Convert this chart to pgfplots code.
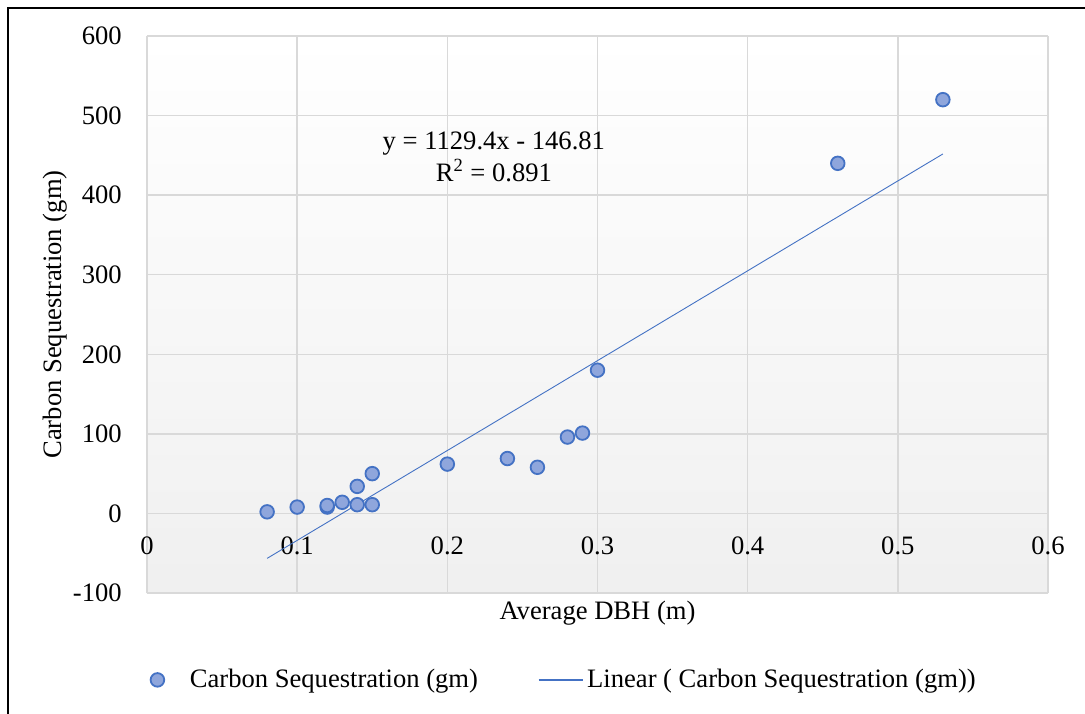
\documentclass[border=0pt]{standalone}
\usepackage{pgfplots}
\pgfplotsset{compat=1.18}
\usepackage{fontspec}
\setmainfont{Liberation Serif}
\definecolor{mblue}{HTML}{4472C4}
\definecolor{mfill}{HTML}{8FA6DC}
\definecolor{gridc}{HTML}{D9D9D9}
\begin{document}
\fontsize{13.3}{16}\selectfont
\begin{tikzpicture}
\begin{axis}[
  scale only axis, width=450.5pt, height=278.5pt,
  xmin=0, xmax=0.6, ymin=-100, ymax=600,
  xtick={0,0.1,0.2,0.3,0.4,0.5,0.6},
  ytick={-100,0,100,200,300,400,500,600},
  xticklabels={0,0.1,0.2,0.3,0.4,0.5,0.6},
  /pgf/number format/assume math mode=true,
  axis x line=middle, axis y line=left,
  axis line style={-, draw=gridc, line width=0.75pt},
  hide obscured x ticks=false, hide obscured y ticks=false,
  major tick length=0pt,
  grid=major, grid style={draw=gridc, line width=0.75pt},
  axis background/.style={shade, top color=white, bottom color=black!6},
  xticklabel style={yshift=-7pt, font=\fontsize{13.3}{16}\selectfont},
  yticklabel style={xshift=-8pt, font=\fontsize{13.3}{16}\selectfont},
  xlabel={Average DBH (m)},
  ylabel={Carbon Sequestration (gm)},
  xlabel style={at={(axis description cs:0.5,-0.036)}, anchor=center},
  ylabel style={at={(axis description cs:-0.102,0.5)}, anchor=center},
  legend columns=2,
  legend style={draw=none, fill=none, inner sep=0pt, outer sep=0pt,
    at={(axis description cs:-0.020,-0.156)}, anchor=west,
    /tikz/every even column/.append style={column sep=28pt},
    font=\fontsize{13.3}{16}\selectfont},
]
\addplot[only marks, mark=*, mark size=3.4pt,
  mark options={draw=mblue, fill=mfill, line width=0.9pt},
  legend image code/.code={\path[draw=none, fill=none] (0cm,-0.1cm) rectangle (1cm,0.1cm);\draw plot coordinates {(0.5cm,0cm)};}]
coordinates {
(0.08,2) (0.10,8) (0.12,8) (0.12,10) (0.13,14) (0.14,11) (0.14,34)
(0.15,11) (0.15,50) (0.20,62) (0.24,69) (0.26,58) (0.28,96) (0.29,101)
(0.30,180) (0.46,440) (0.53,520)
};
\addlegendentry{Carbon Sequestration (gm)}
\addplot[no marks, draw=mblue, line width=0.45pt,
  legend image code/.code={\draw[mblue, line width=0.6pt] (0pt,0pt) -- (22pt,0pt);}]
coordinates {(0.08,-56.46) (0.53,451.77)};
\addlegendentry[xshift=-2pt]{Linear ( Carbon Sequestration (gm))}
\node[align=center, inner sep=0pt] at (axis cs:0.231,448) {y = 1129.4x - 146.81\\R\textsuperscript{2} = 0.891};
\end{axis}
\draw[line width=1.1pt] (-69.5pt,-62pt) -- (-69.5pt,292.5pt) -- (472pt,292.5pt);
\pgfresetboundingbox
\path[use as bounding box] (-73.5pt,-60pt) rectangle (469pt,296.5pt);
\end{tikzpicture}
\end{document}
